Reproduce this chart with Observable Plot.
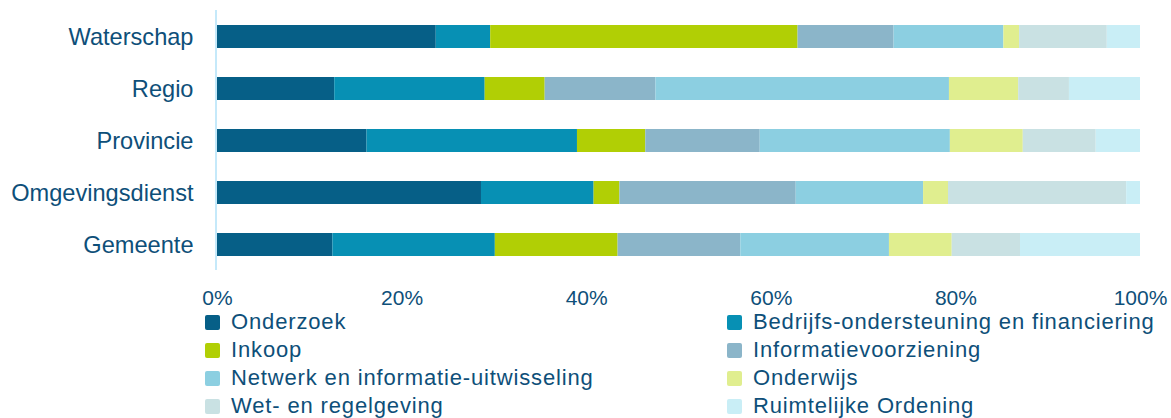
<!DOCTYPE html>
<html>
<head>
<meta charset="utf-8">
<script src="https://cdn.jsdelivr.net/npm/d3@7"></script>
<script src="https://cdn.jsdelivr.net/npm/@observablehq/plot@0.6"></script>
<style>
  html, body { margin: 0; padding: 0; background: #fff; }
  body { width: 1171px; height: 418px; overflow: hidden; font-family: "Liberation Sans", Arial, sans-serif; }
  #chart svg { overflow: visible; display: block; }
  #legend { position: relative; height: 112px; }
  .item { position: absolute; height: 28px; display: flex; align-items: center; font-size: 22px; line-height: 24px; color: #0e4f79; letter-spacing: 0.85px; white-space: nowrap; }
  .sw { width: 15px; height: 15px; border-radius: 2px; margin-right: 11px; flex: none; }
</style>
</head>
<body>
<div id="chart"></div>
<div id="legend"></div>
<script>
const categories = ["Waterschap", "Regio", "Provincie", "Omgevingsdienst", "Gemeente"];
const seriesNames = [
  "Onderzoek",
  "Bedrijfs-ondersteuning en financiering",
  "Inkoop",
  "Informatievoorziening",
  "Netwerk en informatie-uitwisseling",
  "Onderwijs",
  "Wet- en regelgeving",
  "Ruimtelijke Ordening"
];
const seriesColors = ["#065f87", "#0790b4", "#b1cf05", "#8bb5c9", "#8ccfe1", "#e0ee8f", "#c9e1e3", "#c9eef6"];
// values per series, in the order of categories (percent)
const onderzoek   = [23.7, 12.7, 16.2, 28.6, 12.5];
const bedrijfs    = [5.9, 16.3, 22.8, 12.2, 17.6];
const inkoop      = [33.3, 6.5, 7.4, 2.8, 13.3];
const informatie  = [10.4, 12.0, 12.4, 19.1, 13.3];
const netwerk     = [11.9, 31.8, 20.6, 13.8, 16.1];
const onderwijs   = [1.7, 7.5, 7.9, 2.7, 6.8];
const wet         = [9.5, 5.5, 7.9, 19.3, 7.4];
const ruimte      = [3.6, 7.7, 4.8, 1.5, 13.0];
const xTicks = [0, 0.2, 0.4, 0.6, 0.8, 1];

const seriesValues = [onderzoek, bedrijfs, inkoop, informatie, netwerk, onderwijs, wet, ruimte];
const data = [];
seriesNames.forEach((s, i) => {
  categories.forEach((c, j) => data.push({category: c, series: s, value: seriesValues[i][j]}));
});

const textColor = "#0e4f79";

const chart = Plot.plot({
  width: 1171,
  height: 308,
  marginLeft: 217,
  marginRight: 31,
  marginTop: 10,
  marginBottom: 38,
  style: {fontFamily: "'Liberation Sans', Arial, sans-serif", color: textColor, background: "transparent", overflow: "visible"},
  x: {domain: [0, 1], ticks: xTicks, tickFormat: d3.format(".0%")},
  y: {domain: categories, paddingInner: 0.56, paddingOuter: 0.28},
  color: {domain: seriesNames, range: seriesColors},
  marks: [
    Plot.barX(data, Plot.stackX({
      x: "value", y: "category", z: "series", fill: "series",
      order: seriesNames, offset: "normalize"
    })),
    Plot.ruleX([0], {stroke: "#c5e9fa", strokeWidth: 2, dx: -1.5}),
    Plot.axisX({ticks: xTicks, tickFormat: d3.format(".0%"), tickSize: 0, tickPadding: 20, fontSize: 21, fill: textColor, label: null}),
    Plot.axisY({tickSize: 0, tickPadding: 24, fontSize: 23.6, fill: textColor, label: null})
  ]
});
document.getElementById("chart").appendChild(chart);

const legend = document.getElementById("legend");
seriesNames.forEach((s, i) => {
  const col = i % 2, row = Math.floor(i / 2);
  const item = document.createElement("div");
  item.className = "item";
  item.style.left = (col === 0 ? 205 : 727) + "px";
  item.style.top = (row * 28) + "px";
  const sw = document.createElement("span");
  sw.className = "sw";
  sw.style.background = seriesColors[i];
  const t = document.createElement("span");
  t.textContent = s;
  item.appendChild(sw);
  item.appendChild(t);
  legend.appendChild(item);
});
</script>
</body>
</html>
